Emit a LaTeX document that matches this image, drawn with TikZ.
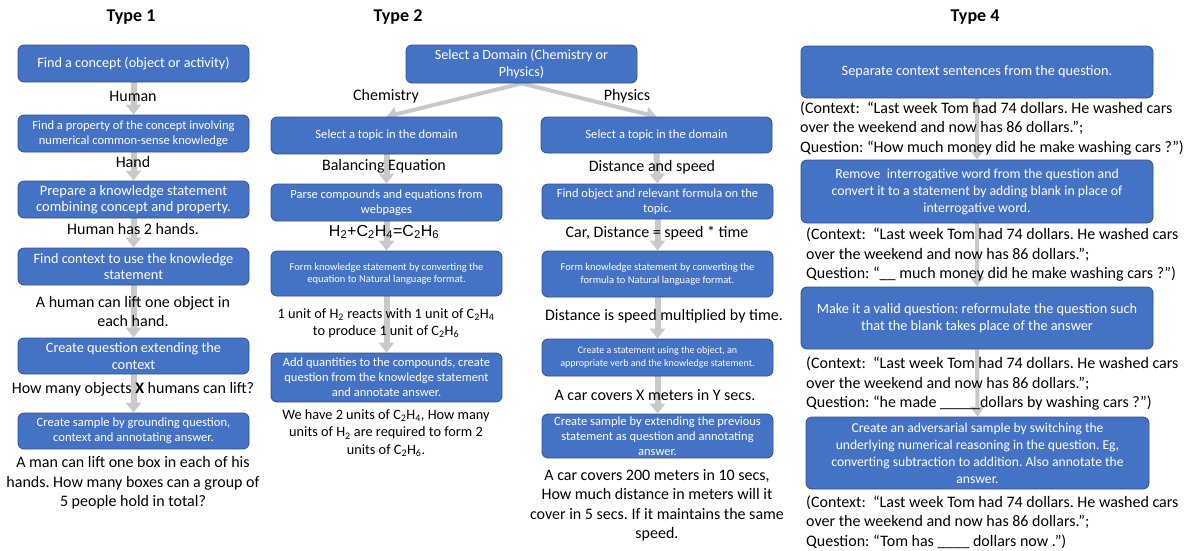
\documentclass[tikz,border=0pt]{standalone}
\usepackage{fontspec}
\setmainfont{Carlito}
\newfontfamily\arialf{Liberation Sans}
\usetikzlibrary{arrows.meta,backgrounds}
\definecolor{boxblue}{HTML}{4472C4}
\definecolor{boxedge}{HTML}{2F528F}
\definecolor{arrgray}{HTML}{C9C9C9}
\newcommand{\fs}[2]{\fontsize{#1}{#2}\selectfont}
\newcommand{\sub}[1]{\textsubscript{#1}}
\frenchspacing
\begin{document}
\begin{tikzpicture}[x=1pt,y=-1pt,
  bx/.style={draw=boxedge, line width=0.8pt, fill=boxblue, rounded corners=6pt,
    text=white, align=center, inner sep=0pt},
  lbl/.style={align=center, inner sep=0pt, text=black, font=\fs{16}{19.5}},
  ctx/.style={align=left, inner sep=0pt, text=black, anchor=west, font=\fs{16}{19.5}},
  ttl/.style={inner sep=0pt, font=\fs{18}{20}\bfseries},
  arr/.style={draw=arrgray, line width=6pt, -{Triangle[width=15pt,length=10pt]}},
  arrthin/.style={draw=arrgray, line width=4pt, -{Triangle[width=14pt,length=10pt]}},
]
\useasboundingbox (0,0) rectangle (1196,550);

% ---------------- Type 1 ----------------
\node[ttl] (ty1) at (131,17) {Type 1};
\node[bx, minimum width=231pt, minimum height=37pt, font=\fs{14.2}{16}] (a1) at (133.5,63.5) {Find a concept (object or activity)};
\node[bx, minimum width=231pt, minimum height=37pt, font=\fs{12.5}{15}] (a2) at (133.5,133.5) {Find a property of the concept involving\\numerical common-sense knowledge};
\node[bx, minimum width=231pt, minimum height=37pt, font=\fs{14.5}{16.5}] (a3) at (133.5,199.5) {Prepare a knowledge statement\\combining concept and property.};
\node[bx, minimum width=231pt, minimum height=37pt, font=\fs{14.3}{16.5}] (a4) at (133.5,266.5) {Find context to use the knowledge\\statement};
\node[bx, minimum width=231pt, minimum height=36pt, font=\fs{14.3}{16.5}] (a5) at (133.5,356) {Create question extending the\\context};
\node[bx, minimum width=231pt, minimum height=36pt, font=\fs{12.6}{15}] (a6) at (133.5,431) {Create sample by grounding question,\\context and annotating answer.};

\node[lbl] (la1) at (133,96) {Human};
\node[lbl] (la2) at (133,161.5) {Hand};
\node[lbl] (la3) at (133,228.5) {Human has 2 hands.};
\node[lbl] (la4) at (133,311.5) {A human can lift one object in\\each hand.};
\node[lbl] (la5) at (133,389) {How many objects \textbf{X} humans can lift?};
\node[lbl] (la6) at (133,483) {A man can lift one box in each of his\\hands. How many boxes can a group of\\5 people hold in total?};

% ---------------- Type 2 ----------------
\node[ttl] (ty2) at (398,17) {Type 2};
\node[bx, minimum width=231pt, minimum height=38pt, font=\fs{14.1}{16.5}] (dom) at (521.5,64) {Select a Domain (Chemistry or\\Physics)};

\node[bx, minimum width=231pt, minimum height=37pt, font=\fs{12.6}{14}] (c1) at (386.5,135.5) {Select a topic in the domain};
\node[bx, minimum width=231pt, minimum height=37pt, font=\fs{12.5}{15}] (c2) at (386.5,202.5) {Parse compounds and equations from\\webpages};
\node[bx, minimum width=231pt, minimum height=45pt, font=\fs{10.5}{12.5}] (c3) at (386.5,273.5) {Form knowledge statement by converting the\\equation to Natural language format.};
\node[bx, minimum width=231pt, minimum height=49pt, font=\fs{12.5}{15}] (c4) at (386.5,377.5) {Add quantities to the compounds, create\\question from the knowledge statement\\and annotate answer.};

\node[lbl] (lchem) at (386,96) {Chemistry};
\node[lbl] (lc1) at (384,166) {Balancing Equation};
\node[lbl, font=\arialf\fs{16}{19}] (lc2) at (384,232) {H\sub{2}+C\sub{2}H\sub{4}=C\sub{2}H\sub{6}};
\node[lbl, font=\fs{14.3}{17.5}] (lc3) at (386,323) {1 unit of H\sub{2} reacts with 1 unit of C\sub{2}H\sub{4}\\to produce 1 unit of C\sub{2}H\sub{6}};
\node[lbl, font=\fs{14.3}{17.5}] (lc4) at (386,433) {We have 2 units of C\sub{2}H\sub{4}, How many\\units of H\sub{2} are required to form 2\\units of C\sub{2}H\sub{6}.};

\node[bx, minimum width=231pt, minimum height=36pt, font=\fs{12.6}{14}] (p1) at (656.5,135) {Select a topic in the domain};
\node[bx, minimum width=231pt, minimum height=35pt, font=\fs{12.5}{15}] (p2) at (657.5,201.5) {Find object and relevant formula on the\\topic.};
\node[bx, minimum width=231pt, minimum height=46pt, font=\fs{10.5}{12.5}] (p3) at (657.5,274) {Form knowledge statement by converting the\\formula to Natural language format.};
\node[bx, minimum width=231pt, minimum height=37pt, font=\fs{10}{13}] (p4) at (657.5,357.5) {Create a statement using the object, an\\appropriate verb and the knowledge statement.};
\node[bx, minimum width=231pt, minimum height=44pt, font=\fs{12.5}{15}] (p5) at (657.5,436) {Create sample by extending the previous\\statement as question and annotating\\answer.};

\node[lbl] (lphys) at (627,96) {Physics};
\node[lbl] (lp1) at (652,167) {Distance and speed};
\node[lbl] (lp2) at (657,233) {Car, Distance = speed * time};
\node[lbl] (lp3) at (664,316) {Distance is speed multiplied by time.};
\node[lbl] (lp4) at (655,395) {A car covers X meters in Y secs.};
\node[lbl] (lp5) at (657,505.5) {A car covers 200 meters in 10 secs,\\How much distance in meters will it\\cover in 5 secs. If it maintains the same\\speed.};

% ---------------- Type 4 ----------------
\node[ttl] (ty4) at (975,17) {Type 4};
\node[bx, minimum width=352pt, minimum height=52pt, font=\fs{14.3}{17}] (d1) at (977,72) {Separate context sentences from the question.};
\node[bx, minimum width=352pt, minimum height=63pt, font=\fs{13.8}{17}] (d2) at (977,191.5) {Remove\ \ interrogative word from the question and\\convert it to a statement by adding blank in place of\\interrogative word.};
\node[bx, minimum width=352pt, minimum height=62pt, font=\fs{14.3}{17}] (d3) at (977,318) {Make it a valid question: reformulate the question such\\that the blank takes place of the answer};
\node[bx, minimum width=343pt, minimum height=72pt, font=\fs{13.6}{17}] (d4) at (977.5,453) {Create an adversarial sample by switching the\\underlying numerical reasoning in the question. Eg,\\converting subtraction to addition. Also annotate the\\answer.};

\node[ctx] (ld1) at (800,128.5) {(Context:\ \ “Last week Tom had 74 dollars. He washed cars\\over the weekend and now has 86 dollars.”;\\Question: “How much money did he make washing cars ?”)};
\node[ctx] (ld2) at (806,255) {(Context:\ \ “Last week Tom had 74 dollars. He washed cars\\over the weekend and now has 86 dollars.”;\\Question: “\_\_ much money did he make washing cars ?”)};
\node[ctx] (ld3) at (806,384) {(Context:\ \ “Last week Tom had 74 dollars. He washed cars\\over the weekend and now has 86 dollars.”;\\Question: “he made \_\_\_\_\_dollars by washing cars ?”)};
\node[ctx] (ld4) at (806,522) {(Context:\ \ “Last week Tom had 74 dollars. He washed cars\\over the weekend and now has 86 dollars.”;\\Question: “Tom has \_\_\_\_ dollars now .”)};

% ---------------- Arrows ----------------
\begin{pgfonlayer}{background}
\draw[arr] (a1.south) -- (a2.north);
\draw[arr] (a2.south) -- (a3.north);
\draw[arr] (a3.south) -- (a4.north);
\draw[arr] (a4.south) -- (a5.north);
\draw[arr] (a5.south) -- (a6.north);
\draw[arrthin] (dom.south) -- (c1.north);
\draw[arrthin] (dom.south) -- (p1.north);
\draw[arr] (c1.south) -- (c2.north);
\draw[arr] (c2.south) -- (c3.north);
\draw[arr] (c3.south) -- (c4.north);
\draw[arr] (p1.south) -- (p2.north);
\draw[arr] (p2.south) -- (p3.north);
\draw[arr] (p3.south) -- (p4.north);
\draw[arr] (p4.south) -- (p5.north);
\draw[arrthin] (d1.south) -- (d2.north);
\draw[arrthin] (d2.south) -- (d3.north);
\draw[arrthin] (d3.south) -- (d4.north);
\end{pgfonlayer}
\end{tikzpicture}
\end{document}
